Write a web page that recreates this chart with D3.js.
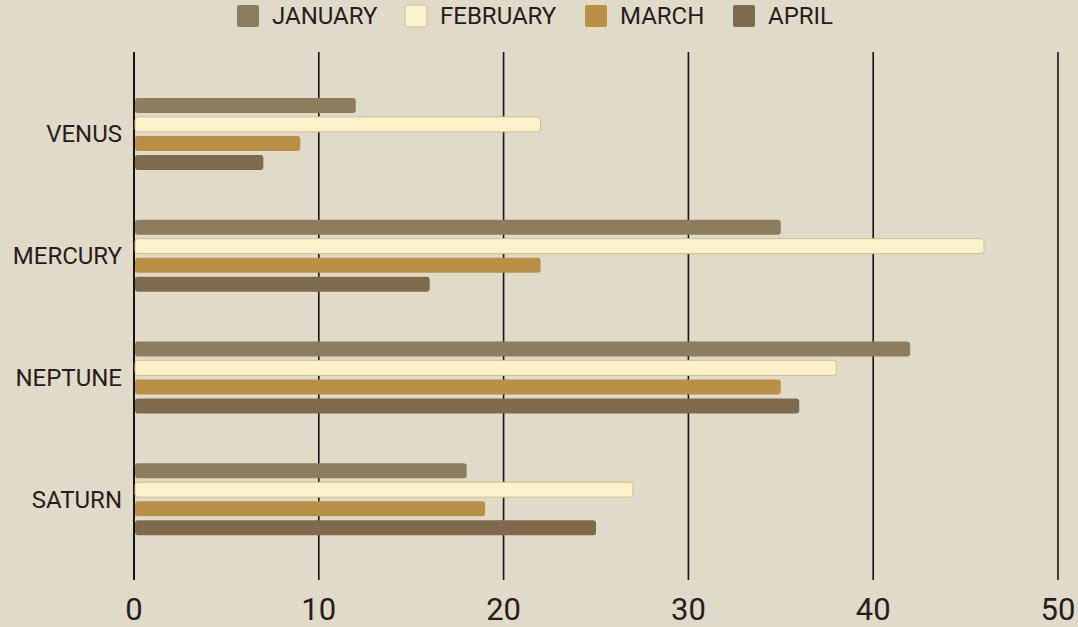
<!DOCTYPE html>
<html><head><meta charset="utf-8">
<script src="https://cdn.jsdelivr.net/npm/d3@7"></script>
<style>html,body{margin:0;padding:0;background:#e0dbc9;}svg{display:block;font-family:Roboto,sans-serif;}</style>
</head><body>
<svg id="c" width="1078" height="627"></svg>
<script>
const categories = ["VENUS","MERCURY","NEPTUNE","SATURN"];
const seriesNames = ["JANUARY","FEBRUARY","MARCH","APRIL"];
const january = [12,35,42,18];
const february = [22,46,38,27];
const march = [9,22,35,19];
const april = [7,16,36,25];
const xTicks = [0,10,20,30,40,50];
const colors = ["#8b7d5e","#fdf1c9","#ba9047","#7e6a4d"];
const strokes = ["none","#c9bf97","none","none"];
const seriesValues = [january,february,march,april];

const svg = d3.select("#c");
svg.append("rect").attr("width",1078).attr("height",627).attr("fill","#e0dbc9");
const x = d3.scaleLinear().domain([0,50]).range([134,1058]);
const y = d3.scaleBand().domain(categories).range([73,560]);
const inner = d3.scaleBand().domain(seriesNames).range([-38,38]);

// gridlines
svg.append("g").selectAll("line").data(xTicks).join("line")
  .attr("x1",d=>x(d)).attr("x2",d=>x(d)).attr("y1",52).attr("y2",580)
  .attr("stroke","#1a1410").attr("stroke-width",d=>d===0?2:1.6);

// bars
const g = svg.append("g");
seriesNames.forEach((s,si)=>{
  g.selectAll(null).data(categories).join("rect")
    .attr("x",x(0)+1)
    .attr("y",(c)=>y(c)+y.bandwidth()/2+inner(s)+2)
    .attr("height",inner.bandwidth()-4)
    .attr("width",(c,i)=>x(seriesValues[si][i])-x(0)-1)
    .attr("rx",3)
    .attr("fill",colors[si])
    .attr("stroke",strokes[si]).attr("stroke-width",1);
});

// category labels
svg.append("g").selectAll("text").data(categories).join("text")
  .attr("x",122).attr("y",c=>y(c)+y.bandwidth()/2)
  .attr("dy","0.35em").attr("text-anchor","end")
  .attr("font-size",24).attr("fill","#2a1c1c").text(d=>d);

// x tick labels
svg.append("g").selectAll("text").data(xTicks).join("text")
  .attr("x",d=>x(d)).attr("y",620).attr("text-anchor","middle")
  .attr("font-size",31).attr("fill","#2a1c1c").text(d=>d);

// legend
const legX = [237,405,585,733];
const lg = svg.append("g");
seriesNames.forEach((s,i)=>{
  lg.append("rect").attr("x",legX[i]).attr("y",5).attr("width",22).attr("height",22).attr("rx",2)
    .attr("fill",colors[i]).attr("stroke",strokes[i]);
  lg.append("text").attr("x",legX[i]+35).attr("y",16).attr("dy","0.35em")
    .attr("font-size",24).attr("fill","#2a1c1c").text(s);
});
</script>
</body></html>
